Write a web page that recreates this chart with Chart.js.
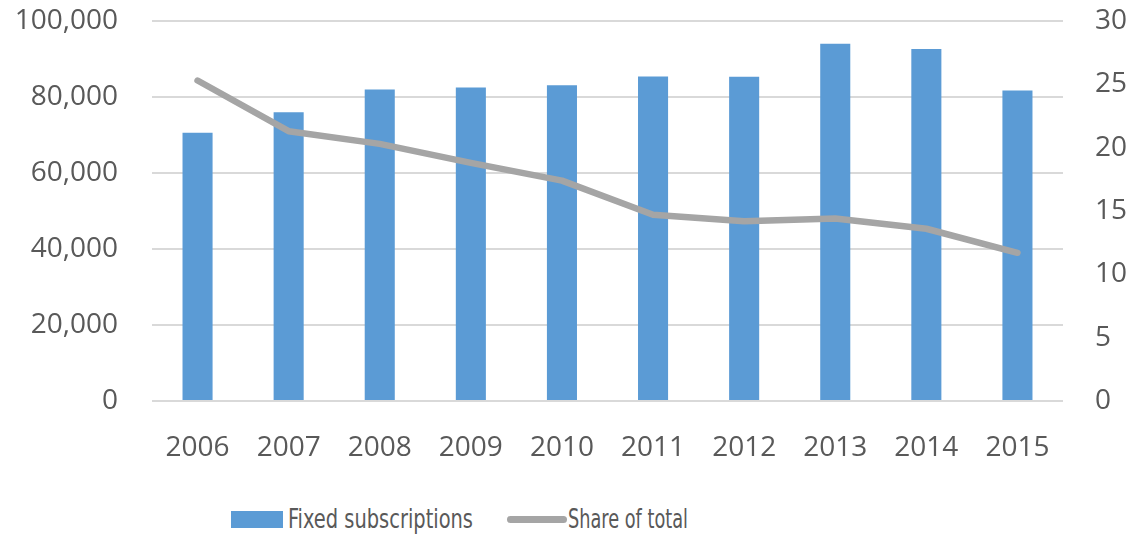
<!DOCTYPE html>
<html>
<head>
<meta charset="utf-8">
<script src="https://cdn.jsdelivr.net/npm/chart.js@4"></script>
<style>
  html, body { margin: 0; padding: 0; background: #fff; }
  #wrap { position: relative; width: 1141px; height: 536px; }
  #chart { position: absolute; left: 0; top: 0; }
  .legend { position: absolute; top: 504px; font-family: 'DejaVu Sans Condensed', 'Open Sans', sans-serif;
            font-size: 26px; color: #595959; white-space: nowrap; line-height: 30px; height: 30px; }
  .legend .box { position: absolute; top: 0; }
  .legend .txt { position: absolute; top: 0; transform-origin: 0 50%; }
</style>
</head>
<body>
<div id="wrap">
  <canvas id="chart" width="1141" height="480"></canvas>
  <div class="legend" style="left:231px"><span class="box" style="left:0;top:7px;width:52px;height:17px;background:#5B9BD5"></span><span class="txt" id="t1" style="left:57px"></span></div>
  <div class="legend" style="left:507px"><span class="box" style="left:0;top:12px;width:60px;height:7px;background:#A5A5A5;border-radius:4px"></span><span class="txt" id="t2" style="left:61px"></span></div>
</div>
<script>
// Datos
const years = ['2006', '2007', '2008', '2009', '2010', '2011', '2012', '2013', '2014', '2015'];
const fixedSubs = [70600, 76000, 82000, 82500, 83100, 85400, 85300, 94000, 92600, 81700];
const shareTotal = [25.3, 21.3, 20.3, 18.8, 17.4, 14.7, 14.2, 14.4, 13.6, 11.7];
const seriesNames = ['Fixed subscriptions', 'Share of total'];

const textColor = '#595959';
const tickFont = { family: "'Open Sans', sans-serif", size: 28 };

// leyenda en HTML, ajustada al ancho del original
function fitText(id, text, target) {
    const el = document.getElementById(id);
    el.textContent = text;
    const w = el.getBoundingClientRect().width;
    if (w > 0) el.style.transform = 'scaleX(' + (target / w) + ')';
}
fitText('t1', seriesNames[0], 185);
fitText('t2', seriesNames[1], 120);

// ejes verticales sin relleno extra arriba/abajo
function noVertPad(axis) {
    axis.paddingTop = 0;
    axis.paddingBottom = 0;
}

const chart = new Chart(document.getElementById('chart'), {
    type: 'bar',
    data: {
        labels: years,
        datasets: [{
            type: 'bar',
            label: seriesNames[0],
            data: fixedSubs,
            backgroundColor: '#5B9BD5',
            borderWidth: 0,
            barPercentage: 0.33,
            categoryPercentage: 1,
            yAxisID: 'y',
            order: 2
        }, {
            type: 'line',
            label: seriesNames[1],
            data: shareTotal,
            borderColor: '#A5A5A5',
            borderWidth: 6.5,
            borderCapStyle: 'round',
            borderJoinStyle: 'round',
            pointRadius: 0,
            tension: 0,
            yAxisID: 'y1',
            order: 1
        }]
    },
    options: {
        responsive: false,
        animation: false,
        layout: { padding: { top: 21, right: 0, bottom: 0, left: 0 } },
        plugins: {
            legend: { display: false },
            tooltip: { enabled: false }
        },
        scales: {
            x: {
                grid: { display: false },
                border: { display: false },
                ticks: { color: textColor, font: tickFont, padding: 22, maxRotation: 0 },
                afterFit: function(axis) { axis.height = 79; }
            },
            y: {
                position: 'left',
                min: 0,
                max: 100000,
                grid: { color: '#D9D9D9', lineWidth: 2, drawTicks: false },
                border: { display: false },
                ticks: {
                    stepSize: 20000,
                    color: textColor,
                    font: tickFont,
                    padding: 34,
                    callback: v => v.toLocaleString('en-US')
                },
                afterFit: function(axis) { axis.width = 152; noVertPad(axis); }
            },
            y1: {
                position: 'right',
                min: 0,
                max: 30,
                grid: { display: false, drawTicks: false },
                border: { display: false },
                ticks: { stepSize: 5, color: textColor, font: tickFont, padding: 32 },
                afterFit: function(axis) { axis.width = 78; noVertPad(axis); }
            }
        }
    }
});
</script>
</body>
</html>
